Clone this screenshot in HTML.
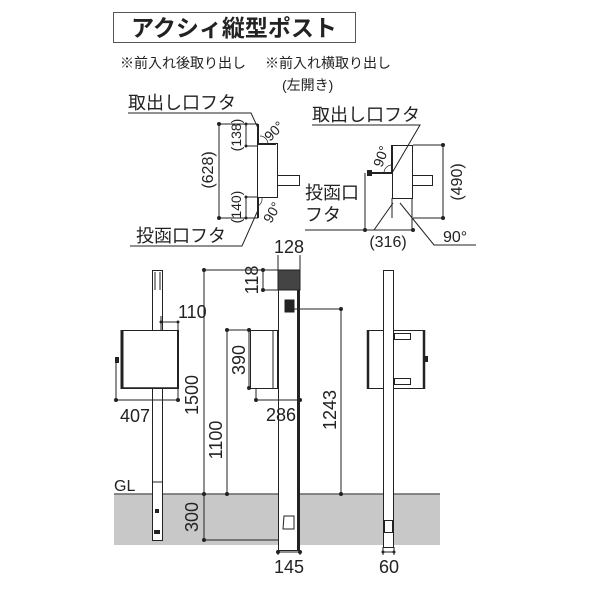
<!DOCTYPE html>
<html><head><meta charset="utf-8"><style>
html,body{margin:0;padding:0;background:#fff;}
svg{display:block;}
text{font-family:"Liberation Sans","Noto Sans CJK JP",sans-serif;fill:#222;}
</style></head><body>
<svg width="600" height="600" viewBox="0 0 600 600" xmlns="http://www.w3.org/2000/svg">
<g stroke="#222" fill="none" stroke-width="1">
<rect x="113.5" y="12.5" width="242" height="30" stroke="#555"/>
</g>
<text x="234" y="36" font-size="23" text-anchor="middle" font-weight="bold">アクシィ縦型ポスト</text>
<text x="120" y="68" font-size="14">※前入れ後取り出し</text>
<text x="265" y="68" font-size="14">※前入れ横取り出し</text>
<text x="282" y="90" font-size="14">(左開き)</text>

<!-- top-left detail -->
<text x="128" y="109" font-size="18">取出し口フタ</text>
<text x="136" y="242" font-size="18">投函口フタ</text>
<g stroke="#222" fill="none" stroke-width="1">
<polyline points="128,113 251,113 258,128"/>
<polyline points="130,246 242,246 258,210"/>
<line x1="219" y1="124" x2="219" y2="218"/>
<line x1="219" y1="124" x2="258" y2="124"/>
<line x1="219" y1="218" x2="258" y2="218"/>
<line x1="246" y1="124" x2="246" y2="146"/>
<line x1="246" y1="146" x2="258" y2="146"/>
<line x1="246" y1="197" x2="246" y2="218"/>
<line x1="246" y1="197" x2="258" y2="197"/>
<rect x="257.5" y="143.5" width="20" height="54"/>
<rect x="277.5" y="175.5" width="22" height="10"/>
<line x1="258" y1="124" x2="258" y2="143" stroke-width="2"/>
<line x1="258" y1="144" x2="276" y2="144" stroke-width="2"/>
<line x1="258" y1="198" x2="258" y2="218" stroke-width="2"/>
<path d="M260,136 A8,8 0 0 1 268,144" stroke-width=".7"/>
<path d="M262,198 A8,8 0 0 1 258,206" stroke-width=".7"/>
</g>
<g fill="#222">
<circle cx="219" cy="124" r="2"/><circle cx="219" cy="218" r="2"/>
<circle cx="246" cy="124" r="1.5"/><circle cx="246" cy="146" r="1.5"/>
<circle cx="246" cy="197" r="1.5"/><circle cx="246" cy="218" r="1.5"/>
</g>
<text font-size="16" transform="translate(213,170) rotate(-90)" text-anchor="middle">(628)</text>
<text font-size="14" transform="translate(241,135) rotate(-90)" text-anchor="middle">(138)</text>
<text font-size="14" transform="translate(241,207) rotate(-90)" text-anchor="middle">(140)</text>
<text font-size="14" transform="translate(270,142) rotate(-45)">90°</text>
<text font-size="14" transform="translate(271,224) rotate(-60)">90°</text>

<!-- top-right detail -->
<text x="312" y="121" font-size="18">取出し口フタ</text>
<text x="305" y="199" font-size="18">投函口</text>
<text x="305" y="221" font-size="18">フタ</text>
<g stroke="#222" fill="none" stroke-width="1">
<polyline points="312,125 420,125 392,173"/>
<polyline points="305,230 374,230 393,203"/>
<polyline points="400,203 434,245 476,245"/>
<rect x="392.5" y="145.5" width="20" height="53"/>
<rect x="412.5" y="175.5" width="20" height="10"/>
<line x1="392" y1="198" x2="392" y2="218"/>
<line x1="412" y1="198" x2="412" y2="230"/>
<line x1="392" y1="145" x2="392" y2="173" stroke-width="2"/>
<line x1="367" y1="173" x2="392" y2="173" stroke-width="2"/>
<line x1="413" y1="145" x2="443" y2="145"/>
<line x1="413" y1="218" x2="443" y2="218"/>
<line x1="443" y1="145" x2="443" y2="218"/>
<line x1="365" y1="173" x2="365" y2="230"/>
<line x1="365" y1="230" x2="413" y2="230"/>
<path d="M384,173 A8,8 0 0 1 392,165" stroke-width=".7"/>
</g>
<g fill="#222">
<circle cx="443" cy="145" r="2"/><circle cx="443" cy="218" r="2"/>
<circle cx="365" cy="230" r="2"/><circle cx="413" cy="230" r="2"/>
<rect x="367" y="170" width="5" height="6"/>
</g>
<text font-size="16" transform="translate(462,182) rotate(-90)" text-anchor="middle">(490)</text>
<text font-size="16" x="388" y="247" text-anchor="middle">(316)</text>
<text font-size="16" x="443" y="242">90°</text>
<text font-size="14" transform="translate(382,168) rotate(-70)">90°</text>

<!-- ground -->
<rect x="114" y="494" width="326" height="51" fill="#c8c8c8"/>
<line x1="114" y1="494" x2="440" y2="494" stroke="#666" stroke-width="1.5"/>
<text x="114" y="491" font-size="16">GL</text>

<!-- left pole view -->
<g stroke="#222" fill="none" stroke-width="1">
<rect x="152.5" y="270.5" width="10" height="270" fill="#fff"/>
<line x1="155" y1="272" x2="155" y2="290"/><line x1="160" y1="272" x2="160" y2="290"/>
<line x1="152" y1="482" x2="162" y2="482"/>
<rect x="121.5" y="330.5" width="57" height="58" fill="#fff"/>
<line x1="122" y1="330" x2="122" y2="389" stroke-width="3"/>
<line x1="178" y1="330" x2="178" y2="389" stroke-width="2"/>
<line x1="121" y1="388" x2="179" y2="388" stroke-width="1.5"/>
<line x1="116" y1="360" x2="116" y2="400"/>
<line x1="116" y1="400" x2="178" y2="400"/>
<line x1="178" y1="389" x2="178" y2="400"/>
<line x1="161" y1="322" x2="178" y2="322"/>
<line x1="178" y1="322" x2="178" y2="330"/>
<line x1="161" y1="316" x2="161" y2="330"/>
</g>
<g fill="#222">
<circle cx="116" cy="400" r="2"/><circle cx="178" cy="400" r="2"/>
<circle cx="161" cy="322" r="1.5"/><circle cx="178" cy="322" r="1.5"/>
<rect x="115" y="357" width="4" height="6"/>
<rect x="155" y="509" width="4" height="4"/>
<rect x="154" y="530" width="6" height="4"/>
</g>
<text x="178" y="318" font-size="18">110</text>
<text x="135" y="422" font-size="18" text-anchor="middle">407</text>

<!-- middle view -->
<g stroke="#222" fill="none" stroke-width="1">
<rect x="278.5" y="270.5" width="21" height="280" fill="#fff"/>
<line x1="298" y1="270" x2="298" y2="550" stroke-width="2"/>
<rect x="278" y="270" width="22" height="20" fill="#444"/>
<rect x="285" y="300" width="9" height="12" fill="#222"/>
<rect x="250.5" y="330.5" width="27" height="58" fill="#fff"/>
<line x1="273" y1="331" x2="273" y2="388"/>
<path d="M284,516 h10 v13 h-11 z" />
<line x1="278" y1="255" x2="278" y2="270"/><line x1="300" y1="255" x2="300" y2="270"/>
<line x1="204" y1="270" x2="278" y2="270"/>
<line x1="204" y1="270" x2="204" y2="540"/>
<line x1="204" y1="540" x2="278" y2="540"/>
<line x1="227" y1="330" x2="250" y2="330"/>
<line x1="227" y1="330" x2="227" y2="494"/>
<line x1="249" y1="330" x2="249" y2="388"/>
<line x1="263" y1="270" x2="263" y2="290"/>
<line x1="263" y1="290" x2="278" y2="290"/>
<line x1="256" y1="400" x2="300" y2="400"/>
<line x1="256" y1="388" x2="256" y2="400"/>
<line x1="294" y1="309" x2="341" y2="309"/>
<line x1="341" y1="309" x2="341" y2="494"/>
<line x1="278" y1="550" x2="278" y2="555"/>
<line x1="300" y1="550" x2="300" y2="555"/>
<line x1="278" y1="552" x2="300" y2="552"/>
</g>
<g fill="#222">
<circle cx="204" cy="270" r="2"/><circle cx="204" cy="494" r="2"/><circle cx="204" cy="540" r="2"/>
<circle cx="227" cy="330" r="2"/><circle cx="227" cy="494" r="2"/>
<circle cx="249" cy="330" r="2"/><circle cx="249" cy="388" r="2"/>
<circle cx="263" cy="270" r="2"/><circle cx="263" cy="290" r="2"/>
<circle cx="256" cy="400" r="2"/><circle cx="300" cy="400" r="2"/>
<circle cx="341" cy="309" r="2"/><circle cx="341" cy="494" r="2"/>
<circle cx="278" cy="552" r="2"/><circle cx="300" cy="552" r="2"/>
</g>
<text x="289" y="253" font-size="18" text-anchor="middle">128</text>
<text font-size="18" transform="translate(258,280) rotate(-90)" text-anchor="middle">118</text>
<text font-size="18" transform="translate(245,360) rotate(-90)" text-anchor="middle">390</text>
<text font-size="18" transform="translate(198,395) rotate(-90)" text-anchor="middle">1500</text>
<text font-size="18" transform="translate(222,440) rotate(-90)" text-anchor="middle">1100</text>
<text font-size="18" transform="translate(336,410) rotate(-90)" text-anchor="middle">1243</text>
<text font-size="18" transform="translate(198,517) rotate(-90)" text-anchor="middle">300</text>
<text x="281" y="421" font-size="18" text-anchor="middle">286</text>
<text x="289" y="573" font-size="18" text-anchor="middle">145</text>

<!-- right view -->
<g stroke="#222" fill="none" stroke-width="1">
<rect x="367.5" y="330.5" width="57" height="58" fill="#fff"/>
<line x1="368" y1="330" x2="368" y2="389" stroke-width="2.5"/>
<line x1="424" y1="330" x2="424" y2="389" stroke-width="2.5"/>
<rect x="383.5" y="270.5" width="10" height="277" fill="#fff"/>
<rect x="394.5" y="333.5" width="16" height="6"/>
<rect x="394.5" y="378.5" width="16" height="6"/>
<line x1="383" y1="547" x2="383" y2="555"/><line x1="394" y1="547" x2="394" y2="555"/>
<line x1="383" y1="552" x2="394" y2="552"/>
<rect x="384.5" y="520.5" width="8" height="12"/>
</g>
<g fill="#222"><circle cx="383" cy="552" r="1.5"/><circle cx="394" cy="552" r="1.5"/><rect x="424" y="356" width="4" height="6"/></g>
<text x="389" y="573" font-size="18" text-anchor="middle">60</text>
</svg>
</body></html>
